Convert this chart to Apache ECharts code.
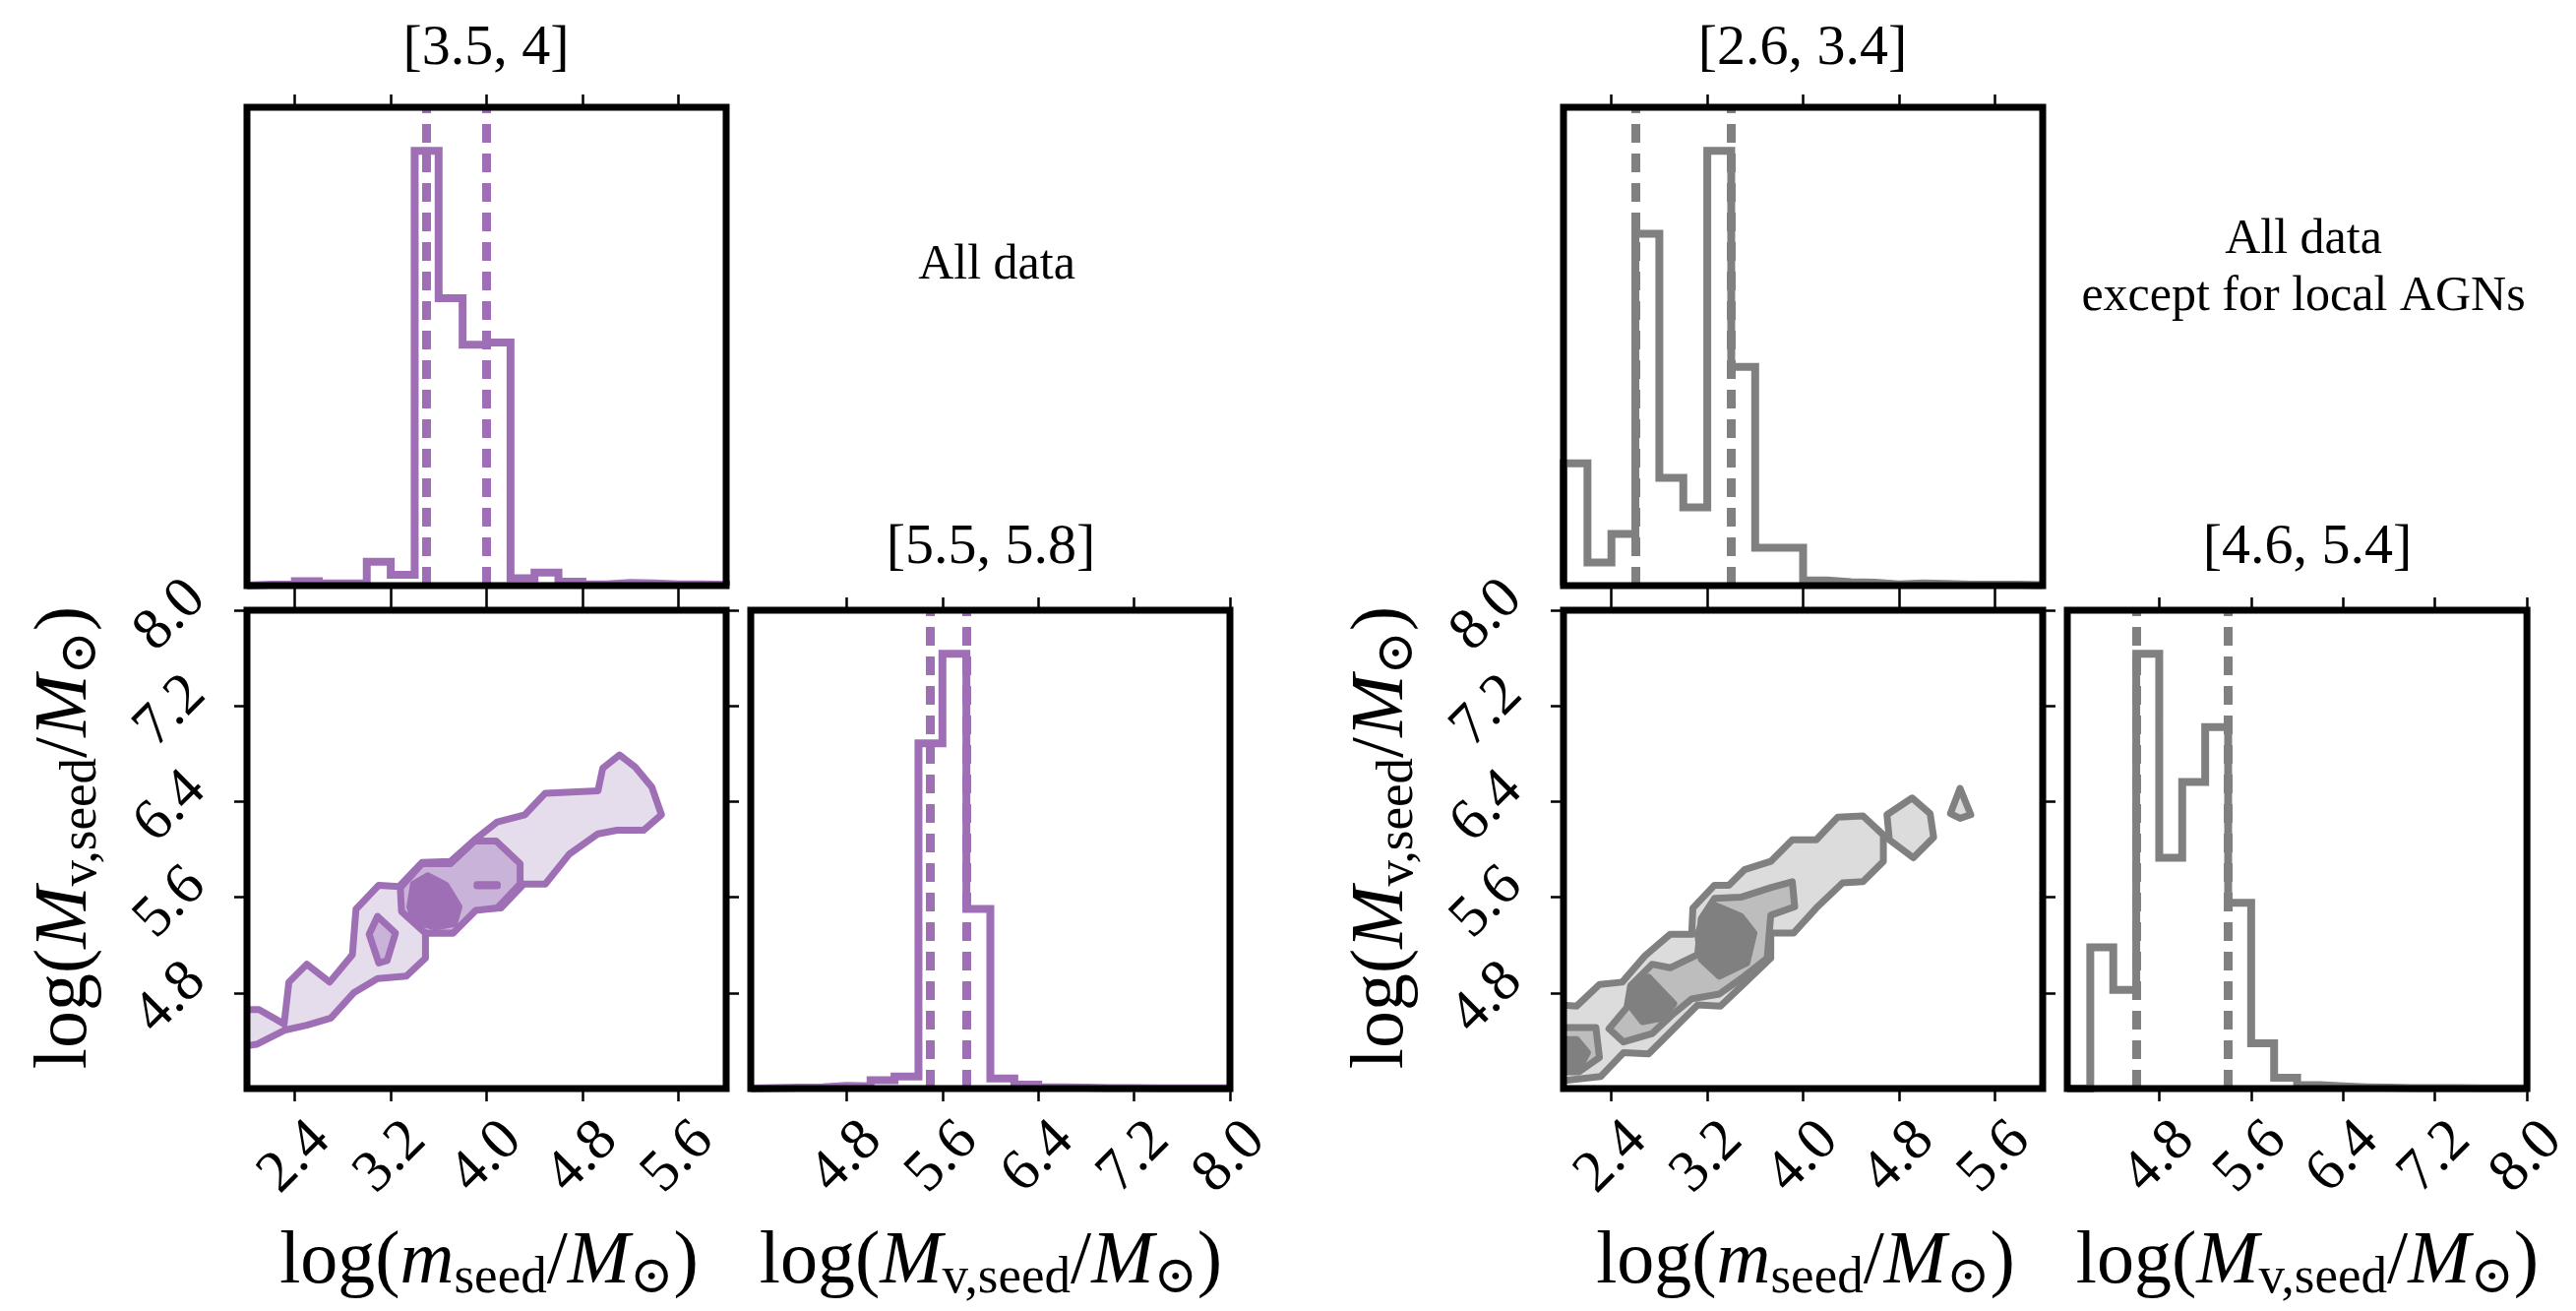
<!DOCTYPE html>
<html>
<head>
<meta charset="utf-8">
<script src="https://cdn.jsdelivr.net/npm/echarts@6/dist/echarts.min.js"></script>
<style>
html,body{margin:0;padding:0;background:#fff}
#chart{width:2618px;height:1332px}
</style>
</head>
<body>
<div id="chart"></div>
<script>
// ---- bin edges and tick positions ----
const seedEdges = [2.0,2.2,2.4,2.6,2.8,3.0,3.2,3.4,3.6,3.8,4.0,4.2,4.4,4.6,4.8,5.0,5.2,5.4,5.6,5.8,6.0];
const virEdges  = [4.0,4.2,4.4,4.6,4.8,5.0,5.2,5.4,5.6,5.8,6.0,6.2,6.4,6.6,6.8,7.0,7.2,7.4,7.6,7.8,8.0];
const seedTicks = [2.4, 3.2, 4.0, 4.8, 5.6];
const virTicks  = [4.8, 5.6, 6.4, 7.2, 8.0];

// ---- 1D marginal histograms (relative counts per bin) ----
const allSeedCounts = [0.2,0.3,1.0,0.5,0.5,5.5,2.5,100,66.1,55.4,55.9,1.7,3.0,0.9,0.3,0.6,0.5,0.3,0.3,0.2];
const allVirCounts  = [0.1,0.2,0.3,0.6,0.5,1.9,2.8,79.4,100,41.3,2.3,0.9,0.3,0.2,0.1,0.1,0.05,0.05,0.05,0.05];
const exSeedCounts  = [28.1,5.3,11.9,80.9,24.8,18.0,100,50.3,8.7,8.7,1.2,0.8,0.7,0.3,0.5,0.4,0.2,0.2,0.2,0.1];
const exVirCounts   = [0,32.5,22.7,100,53.1,70.5,83.1,42.7,10.4,2.5,0.8,0.5,0.3,0.2,0.1,0.1,0.1,0.05,0.05,0.05];

// ---- quantile markers ----
const allSeedQ = [3.5, 4];
const allVirQ  = [5.5, 5.8];
const exSeedQ  = [2.6, 3.4];
const exVirQ   = [4.6, 5.4];

// ---- 2D density contours: [log m_seed, log M_v,seed] vertices ----
const allLevel1 = [
  [[1.95,4.66],[2.10,4.66],[2.31,4.54],[2.35,4.89],[2.50,5.04],[2.69,4.89],[2.88,5.12],[2.91,5.50],[3.10,5.70],[3.27,5.69],
   [3.46,5.89],[3.70,5.90],[3.90,6.08],[4.09,6.23],[4.32,6.29],[4.49,6.47],[4.93,6.49],[4.97,6.68],[5.11,6.79],[5.24,6.69],
   [5.38,6.52],[5.46,6.29],[5.31,6.16],[5.09,6.16],[4.93,6.13],[4.69,5.96],[4.49,5.71],[4.31,5.71],[4.12,5.51],[3.91,5.50],
   [3.72,5.30],[3.49,5.30],[3.49,5.09],[3.33,4.94],[3.09,4.92],[2.89,4.80],[2.70,4.59],[2.50,4.53],[2.32,4.49],[2.08,4.37],[1.95,4.35]]
];
const allLevel2 = [
  [[3.28,5.68],[3.46,5.88],[3.70,5.88],[3.90,6.07],[4.08,6.07],[4.28,5.88],[4.28,5.71],[4.09,5.51],[3.91,5.49],[3.72,5.30],[3.49,5.30],[3.29,5.48]],
  [[3.09,5.44],[3.24,5.30],[3.17,5.07],[3.10,5.05],[3.02,5.29]]
];
const allLevel3 = [
  [[3.39,5.71],[3.51,5.78],[3.66,5.70],[3.77,5.52],[3.73,5.38],[3.57,5.35],[3.40,5.40],[3.36,5.52]],
  [[3.92,5.705],[4.09,5.705],[4.09,5.695],[3.92,5.695]]
];
const exLevel1 = [
  [[1.95,4.70],[2.11,4.69],[2.30,4.87],[2.49,4.89],[2.68,5.11],[2.89,5.29],[3.07,5.29],[3.08,5.51],[3.26,5.70],[3.38,5.70],
   [3.51,5.83],[3.73,5.90],[3.91,6.08],[4.11,6.08],[4.29,6.27],[4.50,6.28],[4.67,6.12],[4.67,5.90],[4.50,5.73],[4.33,5.72],
   [4.11,5.51],[3.92,5.30],[3.73,5.30],[3.73,5.09],[3.52,4.89],[3.31,4.69],[3.12,4.70],[2.92,4.50],[2.71,4.29],[2.50,4.30],
   [2.31,4.10],[1.95,4.06]],
  [[4.70,6.29],[4.91,6.43],[5.06,6.30],[5.09,6.10],[4.92,5.93],[4.72,6.08]],
  [[5.31,6.51],[5.40,6.29],[5.31,6.26],[5.23,6.30]]
];
const exLevel2 = [
  [[2.38,4.50],[2.53,4.68],[2.56,4.86],[2.74,5.04],[2.89,5.01],[3.12,5.12],[3.15,5.42],[3.26,5.59],[3.48,5.60],[3.73,5.68],
   [3.91,5.73],[3.93,5.52],[3.73,5.45],[3.70,5.09],[3.51,4.94],[3.30,4.79],[3.07,4.75],[2.90,4.61],[2.74,4.46],[2.50,4.39]],
  [[1.95,4.51],[2.27,4.51],[2.30,4.26],[2.13,4.14],[1.95,4.14]]
];
const exLevel3 = [
  [[3.27,5.53],[3.48,5.44],[3.59,5.30],[3.53,5.05],[3.30,4.94],[3.15,5.08],[3.12,5.29],[3.18,5.46]],
  [[2.71,4.93],[2.92,4.71],[2.82,4.59],[2.66,4.56],[2.55,4.70],[2.59,4.83]],
  [[1.95,4.41],[2.11,4.41],[2.20,4.30],[2.13,4.17],[1.95,4.17]]
];

// ---- styling ----
const FONT = "'Liberation Serif', 'DejaVu Serif', serif";
const PURPLE = {line:'#9e6fb5', light:'#e6ddec', mid:'#c9b3d9'};
const GRAY   = {line:'#808080', light:'#dcdcdc', mid:'#bdbdbd'};
const PANEL_W = 487, PANEL_H = 486;

const grids = [], xAxes = [], yAxes = [], series = [], graphics = [];

const tickStyle = {show:true, inside:false, length:13, lineStyle:{color:'#000', width:2.5}};
const labelBase = {show:true, rotate:45, align:'center', verticalAlign:'middle',
  fontFamily:FONT, fontSize:60, color:'#000', formatter:v => v.toFixed(1)};

function addGrid(left, top) {
  grids.push({left, top, width:PANEL_W, height:PANEL_H, show:true, borderColor:'#000',
    borderWidth:7, backgroundColor:'transparent', z:10, containLabel:false});
  return grids.length - 1;
}
function addX(gi, min, max, ticks, withLabels) {
  const base = {type:'value', gridIndex:gi, min, max, splitLine:{show:false}, axisLine:{show:false}};
  xAxes.push({...base, position:'bottom', axisTick:{...tickStyle, customValues:ticks},
    axisLabel: withLabels ? {...labelBase, margin:70, customValues:ticks} : {show:false}});
  const idx = xAxes.length - 1;
  xAxes.push({...base, position:'top', axisTick:{...tickStyle, customValues:ticks}, axisLabel:{show:false}});
  return idx;
}
function addYHidden(gi, max) {
  yAxes.push({type:'value', gridIndex:gi, min:0, max, show:false});
  return yAxes.length - 1;
}
function addYTicks(gi, min, max, ticks) {
  const base = {type:'value', gridIndex:gi, min, max, splitLine:{show:false}, axisLine:{show:false}};
  yAxes.push({...base, position:'left', axisTick:{...tickStyle, customValues:ticks},
    axisLabel:{...labelBase, margin:72, padding:[16, 16, 0, 0], customValues:ticks}});
  const idx = yAxes.length - 1;
  yAxes.push({...base, position:'right', axisTick:{...tickStyle, customValues:ticks}, axisLabel:{show:false}});
  return idx;
}

// outline of a step histogram, from bin edges and counts
function stepOutline(edges, counts) {
  const pts = [[edges[0], 0]];
  counts.forEach((c, i) => { pts.push([edges[i], c]); pts.push([edges[i + 1], c]); });
  pts.push([edges[edges.length - 1], 0]);
  return pts;
}

function addHist(xi, yi, edges, counts, q, color) {
  series.push({
    type:'line', xAxisIndex:xi, yAxisIndex:yi, data:stepOutline(edges, counts),
    showSymbol:false, symbol:'none', clip:true, silent:true, animation:false,
    lineStyle:{color, width:8, join:'miter'},
    markLine:{silent:true, animation:false, symbol:['none','none'], label:{show:false},
      lineStyle:{color, width:9, type:[19, 11]},
      emphasis:{disabled:true},
      data:q.map(v => ({xAxis:v}))}
  });
}

function addContour(xi, yi, polys, fill, stroke) {
  series.push({
    type:'custom', xAxisIndex:xi, yAxisIndex:yi, silent:true, animation:false,
    data:polys.map(p => p[0]),
    renderItem:(params, api) => {
      const poly = polys[params.dataIndex];
      const cs = params.coordSys;
      return {
        type:'polygon',
        shape:{points:poly.map(p => api.coord(p))},
        style:{fill, stroke, lineWidth:7, lineJoin:'round'},
        clipPath:{type:'rect', shape:{x:cs.x, y:cs.y, width:cs.width, height:cs.height}}
      };
    }
  });
}

function text(x, y, str, size, extra) {
  graphics.push(Object.assign({type:'text', x, y, silent:true, z:20,
    style:{text:str, fontFamily:FONT, fontSize:size, fill:'#000',
      align:'center', verticalAlign:'middle', textAlign:'center', textVerticalAlign:'middle'}}, extra || {}));
}

const richMath = {
  n:{fontFamily:FONT, fontSize:76, lineHeight:86, fill:'#000'},
  i:{fontFamily:FONT, fontStyle:'italic', fontSize:76, lineHeight:86, fill:'#000'},
  s:{fontFamily:FONT, fontSize:53, lineHeight:47, verticalAlign:'bottom', fill:'#000'}
};
const seedLabel = '{n|log(}{i|m}{s|seed}{n|/}{i|M}{s|⊙}{n|)}';
const virLabel  = '{n|log(}{i|M}{s|v,seed}{n|/}{i|M}{s|⊙}{n|)}';
function mathText(x, y, str, rotation) {
  graphics.push({type:'text', x, y, rotation:rotation || 0, silent:true, z:20,
    style:{text:str, rich:richMath, fontFamily:FONT, fontSize:76, fill:'#000',
      align:'center', verticalAlign:'middle', textAlign:'center', textVerticalAlign:'middle'}});
}

// one corner block: top histogram, 2D contours, right histogram
function corner(x0, set) {
  const x1 = x0 + 512;
  const gTop = addGrid(x0, 109), g2d = addGrid(x0, 620), gRight = addGrid(x1, 620);

  const xTop = addX(gTop, 2, 6, seedTicks, false);
  const yTop = addYHidden(gTop, 1.1 * Math.max(...set.seedCounts));
  addHist(xTop, yTop, seedEdges, set.seedCounts, set.seedQ, set.col.line);

  const x2 = addX(g2d, 2, 6, seedTicks, true);
  const y2 = addYTicks(g2d, 4, 8, virTicks);
  addContour(x2, y2, set.l1, set.col.light, set.col.line);
  addContour(x2, y2, set.l2, set.col.mid, set.col.line);
  addContour(x2, y2, set.l3, set.col.line, set.col.line);

  const xR = addX(gRight, 4, 8, virTicks, true);
  const yR = addYHidden(gRight, 1.1 * Math.max(...set.virCounts));
  addHist(xR, yR, virEdges, set.virCounts, set.virQ, set.col.line);

  text(x0 + 243, 50, '[' + set.seedQ[0] + ', ' + set.seedQ[1] + ']', 58);
  text(x1 + 244, 557, '[' + set.virQ[0] + ', ' + set.virQ[1] + ']', 58);
  mathText(x0 - 184, 851, virLabel, Math.PI / 2);
  mathText(x0 + 246, 1283, seedLabel);
  mathText(x1 + 244, 1283, virLabel);
}

corner(251, {seedCounts:allSeedCounts, virCounts:allVirCounts, seedQ:allSeedQ, virQ:allVirQ,
  l1:allLevel1, l2:allLevel2, l3:allLevel3, col:PURPLE});
corner(1589, {seedCounts:exSeedCounts, virCounts:exVirCounts, seedQ:exSeedQ, virQ:exVirQ,
  l1:exLevel1, l2:exLevel2, l3:exLevel3, col:GRAY});

text(1013, 270, 'All data', 50);
text(2341, 244, 'All data', 50);
text(2341, 302, 'except for local AGNs', 50);

const chart = echarts.init(document.getElementById('chart'), null, {renderer:'canvas'});
chart.setOption({
  animation:false,
  backgroundColor:'#fff',
  grid:grids, xAxis:xAxes, yAxis:yAxes, series, graphic:graphics
});
</script>
</body>
</html>
